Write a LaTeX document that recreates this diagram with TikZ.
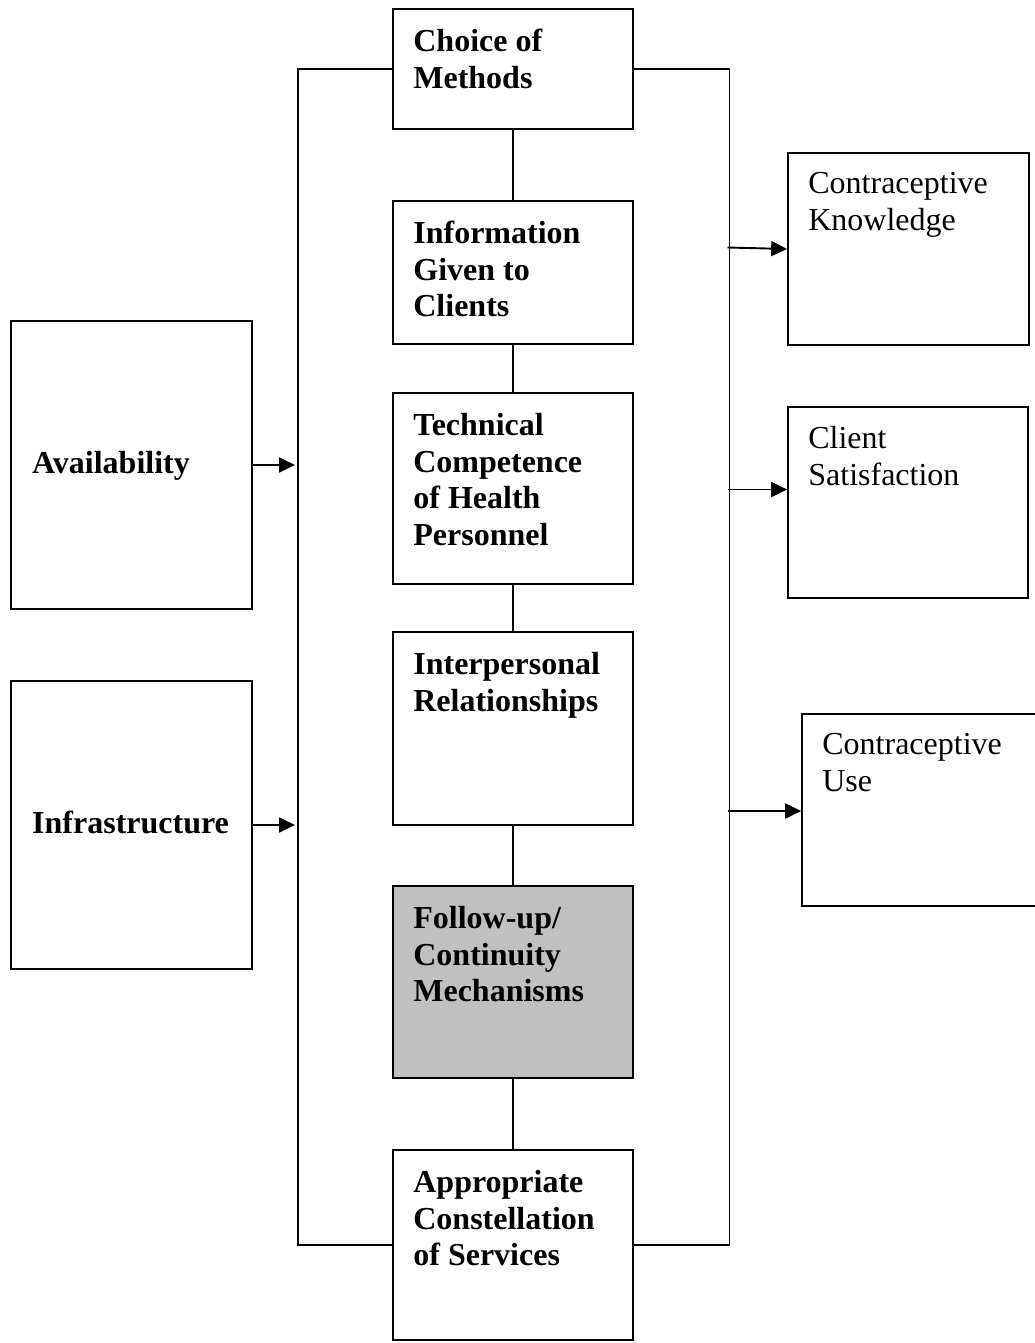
\documentclass[tikz,border=0pt]{standalone}
\usepackage{fontspec}
\setmainfont{Liberation Serif}
\usetikzlibrary{arrows.meta,calc}
\begin{document}
\begin{tikzpicture}[x=1pt,y=-1pt,
  box/.style={draw, line width=1.7pt, rectangle, inner sep=0pt},
  btxt/.style={inner sep=0pt, align=left, font=\fontsize{32}{36.5}\selectfont\bfseries},
  rtxt/.style={inner sep=0pt, align=left, font=\fontsize{32}{37}\selectfont},
  link/.style={line width=1.7pt},
  arr/.style={line width=1.9pt, -{Triangle[length=16pt,width=15pt]}}]
\useasboundingbox (0,0) rectangle (1034,1343);
\fill[white] (0,0) rectangle (1034,1343);
% center column
\node[box, minimum width=240, minimum height=120] (cm) at (513,69) {};
\node[box, minimum width=240, minimum height=143] (info) at (513,272.5) {};
\node[box, minimum width=240, minimum height=191] (tech) at (513,488.5) {};
\node[box, minimum width=240, minimum height=193] (inter) at (513,728.5) {};
\node[box, fill={rgb,255:red,192;green,192;blue,192}, minimum width=240, minimum height=192] (follow) at (513,982) {};
\node[box, minimum width=240, minimum height=190] (acs) at (513,1245) {};
% left
\node[box, minimum width=241, minimum height=288] (avail) at (131.5,465) {};
\node[box, minimum width=241, minimum height=288] (infra) at (131.5,825) {};
% right
\node[box, minimum width=241, minimum height=192] (know) at (908.5,249) {};
\node[box, minimum width=240, minimum height=191] (sat) at (908,502.5) {};
\node[box, minimum width=234, minimum height=192] (use) at (919,810) {};
% texts
\node[btxt, anchor=north west] (tcm) at ($(cm.north west)+(21,21)$) {Choice of\\Methods};
\node[btxt, anchor=north west] (tinfo) at ($(info.north west)+(21,21)$) {Information\\Given to\\Clients};
\node[btxt, anchor=north west] (ttech) at ($(tech.north west)+(21,21)$) {Technical\\Competence\\of Health\\Personnel};
\node[btxt, anchor=north west] (tinter) at ($(inter.north west)+(21,21)$) {Interpersonal\\Relationships};
\node[btxt, anchor=north west] (tfollow) at ($(follow.north west)+(21,21)$) {Follow-up/\\Continuity\\Mechanisms};
\node[btxt, anchor=north west] (tacs) at ($(acs.north west)+(21,21)$) {Appropriate\\Constellation\\of Services};
\node[btxt, anchor=base west] (tavail) at (32,473) {Availability};
\node[btxt, anchor=base west] (tinfra) at (32,833) {Infrastructure};
\node[rtxt, anchor=north west] (tknow) at ($(know.north west)+(21,20)$) {Contraceptive\\Knowledge};
\node[rtxt, anchor=north west] (tsat) at ($(sat.north west)+(21,20)$) {Client\\Satisfaction};
\node[rtxt, anchor=north west] (tuse) at ($(use.north west)+(21,20)$) {Contraceptive\\Use};
% brackets
\coordinate (lb) at (298,69);
\coordinate (rb) at (729.5,69);
\draw[link] (cm.west) -- (lb) |- (acs.west);
\draw[link] (cm.east) -- (rb) |- (acs.east);
% vertical links
\draw[link] (cm.south) -- (info.north);
\draw[link] (info.south) -- (tech.north);
\draw[link] (tech.south) -- (inter.north);
\draw[link] (inter.south) -- (follow.north);
\draw[link] (follow.south) -- (acs.north);
% arrows
\draw[arr, shorten >=3pt] (avail.east) -- (avail.east -| lb);
\draw[arr, shorten >=3pt] (infra.east) -- (infra.east -| lb);
\draw[arr] ($(know.west -| rb)+(-2,-1.5)$) -- (know.west);
\draw[arr] ($(sat.west -| rb)+(-2,-13)$) -- ($(sat.west)+(0,-13)$);
\draw[arr] ($(use.west -| rb)+(-2,1)$) -- ($(use.west)+(0,1)$);
\end{tikzpicture}
\end{document}
